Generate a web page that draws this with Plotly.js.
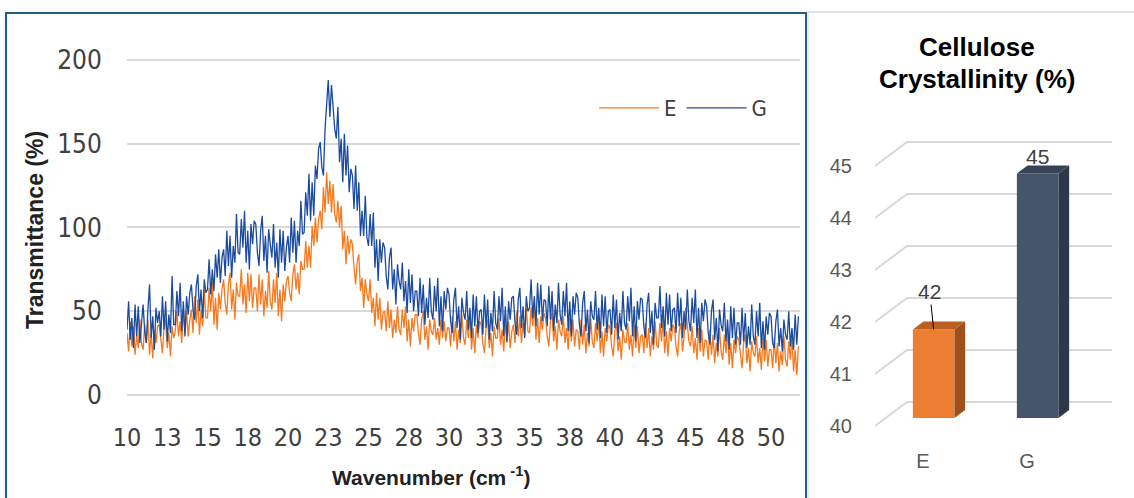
<!DOCTYPE html>
<html><head><meta charset="utf-8">
<script src="https://cdn.plot.ly/plotly-3.0.1.min.js"></script>
<style>html,body{margin:0;padding:0;background:#fff}#chart{width:1134px;height:498px}</style>
</head><body><div id="chart"></div>
<script>
// ---------- Left chart: diffraction pattern (sampled every 0.1 from 10) ----------
const patternStart = 10;
const patternStep = 0.1;
const seriesNames = ['E', 'G'];
const valuesE = [
37,26,44,29,41,24,36,28,45,31,
27,42,31,45,24,37,22,39,31,41,
42,31,25,40,45,28,37,23,41,34,
38,50,35,44,31,51,37,50,35,45,
51,37,59,43,57,36,51,41,63,46,
46,64,50,68,42,58,39,61,51,63,
69,55,48,66,73,51,63,45,67,59,
59,75,54,66,49,73,56,72,52,64,
64,50,72,54,69,47,62,52,74,56,
51,69,55,73,47,63,44,66,56,68,
71,61,56,72,78,63,73,60,80,75,
75,92,76,89,76,101,89,106,91,105,
110,99,124,109,133,114,128,109,126,108,
103,116,100,113,87,98,78,95,84,93,
90,76,66,80,84,62,70,52,69,60,
56,69,49,58,41,61,45,58,39,49,
50,38,56,40,51,34,45,37,53,39,
36,51,40,53,32,45,29,46,38,48,
48,37,30,45,50,33,41,27,45,38,
36,46,33,40,30,45,34,44,32,40,
40,29,47,32,44,27,39,31,48,34,
30,45,34,48,27,40,25,42,34,44,
42,31,25,40,45,28,37,23,41,34,
34,46,30,39,26,45,31,44,28,38,
42,31,50,35,47,31,43,35,52,38,
37,52,41,54,33,46,31,47,39,49,
46,35,29,44,49,32,41,27,45,38,
35,47,31,40,27,46,32,45,29,39,
38,27,45,30,42,25,37,29,46,32,
28,43,32,46,25,38,23,40,32,42,
40,29,23,38,43,26,35,21,39,32,
31,43,27,36,23,42,28,41,25,35,
36,25,43,28,40,23,35,27,44,30,
28,43,32,46,25,38,23,40,32,42,
40,29,23,38,43,26,35,52,39,32,
29,41,25,34,21,40,26,39,23,33,
32,21,39,24,36,19,31,23,40,26,
21,36,25,39,18,31,16,33,25,35,
33,22,16,31,36,19,28,14,32,25,
23,35,19,28,15,34,20,33,17,27,
27,16,34,19,31,14,26,18,35,21,
17,32,21,35,14,27,12,29
];
const valuesG = [
39,56,33,46,28,54,35,53,31,44,
54,38,31,51,66,34,47,27,52,43,
50,35,59,39,56,32,48,37,71,42,
42,62,47,67,38,56,35,59,48,61,
66,51,45,65,72,50,63,46,69,61,
63,81,60,75,62,84,70,87,67,82,
87,71,98,77,95,70,89,79,108,85,
84,105,88,110,79,98,75,102,90,104,
102,85,77,98,107,80,95,73,99,90,
82,102,76,91,70,99,79,98,74,88,
95,79,106,85,104,79,98,89,116,96,
97,121,107,132,104,127,107,137,129,147,
151,136,131,159,172,188,166,185,172,159,
153,172,139,153,127,156,131,149,121,135,
131,111,137,110,127,95,110,95,119,94,
89,108,89,109,76,93,68,93,79,91,
88,71,63,82,88,63,75,54,78,68,
63,79,56,68,49,75,55,72,50,62,
62,47,70,49,66,42,58,46,70,50,
45,65,50,70,41,59,38,62,51,64,
60,44,37,57,64,40,53,33,58,49,
45,62,39,52,34,60,41,59,37,50,
51,36,60,40,57,33,49,38,62,43,
39,59,44,64,35,53,32,56,45,58,
59,43,36,57,64,40,53,34,59,50,
52,69,46,59,41,67,48,66,44,57,
56,41,65,45,62,38,54,43,67,48,
42,62,47,67,38,56,35,59,48,61,
58,42,35,55,62,38,51,31,56,47,
45,62,39,52,34,60,41,59,37,50,
51,36,60,40,57,33,49,38,62,43,
39,59,44,64,35,53,32,56,45,58,
57,41,34,54,61,37,50,30,55,46,
46,65,40,53,35,61,42,60,38,51,
52,37,61,41,58,34,50,39,63,44,
38,58,43,63,34,52,31,55,44,57,
53,37,30,50,57,33,46,26,51,42,
38,55,32,45,27,53,34,52,30,43,
43,30,52,32,49,28,41,30,54,35,
30,50,35,55,28,44,27,47,36,49,
47,31,28,44,51,29,40,26,45,36,
33,50,29,40,27,48,30,47
];
const xTickVals = [10,12.5,15,17.5,20,22.5,25,27.5,30,32.5,35,37.5,40,42.5,45,47.5,50];
const xTickText = ['10','13','15','18','20','23','25','28','30','33','35','38','40','43','45','48','50'];
const yTickVals = [0,50,100,150,200];

// ---------- Right chart: cellulose crystallinity ----------
const barCategories = ['E', 'G'];
const crystallinity = [41.7, 44.7];
const barTickVals = [40,41,42,43,44,45];

// ---------- styling ----------
const W = 1134, H = 498;
const NARROW = "'Liberation Sans Narrow','DejaVu Sans Condensed','Arial Narrow',sans-serif";
const SANS = "'Liberation Sans',Arial,sans-serif";
const colE = '#F47A1F', colG = '#1B4B9E';
const barFront = ['#ED7D31', '#44546A'];
const barSide  = ['#9E4F1C', '#2C3848'];
const barTop   = ['#BC5E22', '#364357'];
const px = p => p / W;
const py = p => 1 - p / H;

// 3D perspective constants for the right panel (axis units)
const DX = 0.3077, DY = 0.4615, BAR_W = 0.4;
const FLOOR_LEFT = -0.4615, WALL_RIGHT = 1.817;
const barBase = barTickVals[0];

const traces = [];
traces.push({type:'scatter', mode:'lines', name:seriesNames[0], x0:patternStart, dx:patternStep, y:valuesE,
  line:{color:colE, width:1.3}, xaxis:'x', yaxis:'y', hoverinfo:'skip'});
traces.push({type:'scatter', mode:'lines', name:seriesNames[1], x0:patternStart, dx:patternStep, y:valuesG,
  line:{color:colG, width:1.3}, xaxis:'x', yaxis:'y', hoverinfo:'skip'});

// front faces of the 3D bars
traces.push({type:'bar', x:barCategories.map((c,i)=>i), y:crystallinity.map(v=>v-barBase),
  base: barBase + DY/3, width: BAR_W, offset: DX/3 - BAR_W/2,
  marker:{color:barFront, line:{width:0}}, xaxis:'x2', yaxis:'y2', showlegend:false, hoverinfo:'skip'});
// side and top faces
crystallinity.forEach((v,i)=>{
  const x0 = i + DX/3 - BAR_W/2, x1 = x0 + BAR_W, b = barBase + DY/3, t = v + DY/3;
  const d = DX/3, e = DY/3;
  traces.push({type:'scatter', mode:'lines', x:[x1,x1+d,x1+d,x1,x1], y:[b,b+e,t+e,t,b], fill:'toself',
    fillcolor:barSide[i], line:{width:0, color:barSide[i]}, xaxis:'x2', yaxis:'y2', showlegend:false, hoverinfo:'skip'});
  traces.push({type:'scatter', mode:'lines', x:[x0,x1,x1+d,x0+d,x0], y:[t,t,t+e,t+e,t], fill:'toself',
    fillcolor:barTop[i], line:{width:0, color:barTop[i]}, xaxis:'x2', yaxis:'y2', showlegend:false, hoverinfo:'skip'});
});

const shapes = [
  {type:'rect', xref:'paper', yref:'paper', x0:px(6), x1:px(806), y0:py(13), y1:py(520), line:{color:'#1F5E85', width:2}, fillcolor:'rgba(0,0,0,0)'},
  {type:'line', xref:'paper', yref:'paper', x0:px(808), x1:px(1134), y0:py(12), y1:py(12), line:{color:'#D9D9D9', width:1.5}},
  {type:'line', xref:'paper', yref:'paper', x0:px(808), x1:px(808), y0:py(12), y1:py(520), line:{color:'#E3E3E3', width:1.5}}
];
barTickVals.forEach(t=>{
  shapes.push({type:'path', xref:'x2', yref:'y2', layer:'below',
    path:`M${FLOOR_LEFT},${t} L${FLOOR_LEFT+DX},${t+DY} L${WALL_RIGHT},${t+DY}`,
    line:{color:'#D9D9D9', width:2}});
});

const annotations = [
  {xref:'paper', yref:'paper', x:px(35), y:py(230), text:'Transmittance (%)', textangle:-90, showarrow:false,
   font:{family:SANS, size:23, color:'#222', weight:'bold'}, xanchor:'center', yanchor:'middle'},
  {xref:'paper', yref:'paper', x:px(431), y:py(476), text:'Wavenumber (cm<sup> -1</sup>)', showarrow:false,
   font:{family:SANS, size:21, color:'#222', weight:'bold'}, xanchor:'center', yanchor:'middle'},
  {xref:'paper', yref:'paper', x:px(977), y:py(47), text:'Cellulose', showarrow:false,
   font:{family:SANS, size:26, color:'#000', weight:'bold'}, xanchor:'center', yanchor:'middle'},
  {xref:'paper', yref:'paper', x:px(977), y:py(79), text:'Crystallinity (%)', showarrow:false,
   font:{family:SANS, size:26, color:'#000', weight:'bold'}, xanchor:'center', yanchor:'middle'},
  {xref:'x2', yref:'y2', x:0 + DX/3, y:crystallinity[0] + DY/3, text:String(Math.round(crystallinity[0])),
   showarrow:true, arrowhead:0, arrowwidth:1, arrowcolor:'#000', ax:-4, ay:-38,
   font:{family:SANS, size:21, color:'#404040'}},
  {xref:'x2', yref:'y2', x:1 + DX/3, y:crystallinity[1] + DY/3, text:String(Math.round(crystallinity[1])),
   showarrow:false, yshift:17, xanchor:'center', yanchor:'middle',
   font:{family:SANS, size:21, color:'#404040'}}
];

const layout = {
  width:W, height:H, margin:{l:0,r:0,t:0,b:0}, paper_bgcolor:'#fff', plot_bgcolor:'rgba(0,0,0,0)',
  showlegend:true,
  legend:{orientation:'h', x:px(594), xanchor:'left', y:py(108), yanchor:'middle', itemwidth:60,
    font:{family:NARROW, size:22, color:'#404040'}, bgcolor:'rgba(0,0,0,0)', traceorder:'normal'},
  xaxis:{domain:[px(127), px(800)], range:[10, 51.8], tickmode:'array', tickvals:xTickVals, ticktext:xTickText,
    showgrid:false, zeroline:false, showline:false, ticks:'outside', ticklen:15, tickcolor:'rgba(0,0,0,0)',
    tickfont:{family:NARROW, size:25, color:'#404040'}, anchor:'y'},
  yaxis:{domain:[py(400), py(39.9)], range:[-3, 212], tickmode:'array', tickvals:yTickVals,
    showgrid:true, gridcolor:'#D9D9D9', gridwidth:2, zeroline:false, showline:false,
    ticks:'outside', ticklen:19, tickcolor:'rgba(0,0,0,0)', tickfont:{family:NARROW, size:26, color:'#404040'}, anchor:'x'},
  xaxis2:{domain:[px(875), px(1112)], range:[FLOOR_LEFT, WALL_RIGHT], tickmode:'array', tickvals:[0,1], ticktext:barCategories,
    showgrid:false, zeroline:false, showline:false, ticks:'', tickfont:{family:SANS, size:20, color:'#595959'}, anchor:'y2'},
  yaxis2:{domain:[py(446.8), py(124.4)], range:[39.6, 45.8], tickmode:'array', tickvals:barTickVals,
    showgrid:false, zeroline:false, showline:false, ticks:'outside', ticklen:18, tickcolor:'rgba(0,0,0,0)',
    tickfont:{family:SANS, size:20, color:'#595959'}, anchor:'x2'},
  shapes, annotations
};

Plotly.newPlot('chart', traces, layout, {staticPlot:true, displayModeBar:false});
</script></body></html>
